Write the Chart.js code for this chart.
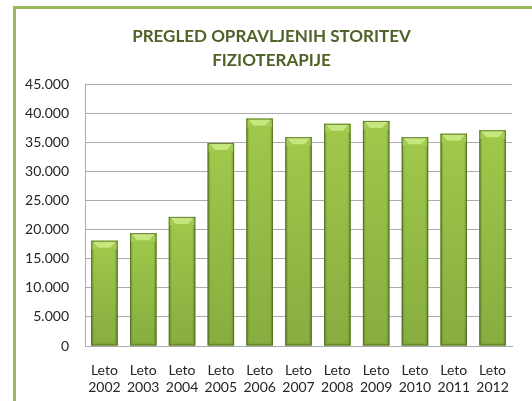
<!DOCTYPE html>
<html>
<head>
<meta charset="utf-8">
<script src="https://cdn.jsdelivr.net/npm/chart.js@4"></script>
<style>
    html, body { margin: 0; padding: 0; background: #fff; }
    .wrap { position: relative; width: 532px; height: 401px; overflow: hidden; }
    .frame { position: absolute; left: 13px; top: 6px; width: 600px; height: 500px;
             border-left: 3px solid #9BBB59; border-top: 3px solid #9BBB59; }
    canvas { position: absolute; left: 0; top: 0; }
</style>
</head>
<body>
<div class="wrap">
    <div class="frame"></div>
    <canvas id="storitveChart" width="532" height="401"></canvas>
</div>
<script>
const years = ['2002', '2003', '2004', '2005', '2006', '2007', '2008', '2009', '2010', '2011', '2012'];
const services = [18100, 19400, 22200, 34900, 39100, 35900, 38200, 38700, 35900, 36500, 37100];
const yTicks = [0, 5000, 10000, 15000, 20000, 25000, 30000, 35000, 40000, 45000];
const titleLines = ['PREGLED OPRAVLJENIH STORITEV', 'FIZIOTERAPIJE'];

const ctx = document.getElementById('storitveChart').getContext('2d');

// paints the green gradient + bevel over every bar
const barShade = {
    id: 'barShade',
    afterDatasetsDraw(chart) {
        const c = chart.ctx;
        chart.getDatasetMeta(0).data.forEach(bar => {
            const { x, y, base, width } = bar.getProps(['x', 'y', 'base', 'width'], true);
            const x0 = x - width / 2, x1 = x + width / 2;
            c.save();
            // body: lighter at top, darker at bottom
            const gv = c.createLinearGradient(0, y, 0, base);
            gv.addColorStop(0, '#A6CF4E');
            gv.addColorStop(1, '#8BB242');
            c.fillStyle = gv;
            c.fillRect(x0, y, width, base - y);
            // darker side edges
            const gh = c.createLinearGradient(x0, 0, x1, 0);
            gh.addColorStop(0, 'rgba(60,80,20,0.45)');
            gh.addColorStop(0.12, 'rgba(60,80,20,0.05)');
            gh.addColorStop(0.88, 'rgba(60,80,20,0.05)');
            gh.addColorStop(1, 'rgba(60,80,20,0.45)');
            c.fillStyle = gh;
            c.fillRect(x0, y, width, base - y);
            // top bevel
            const b = 7;
            c.fillStyle = '#C6E77E';
            c.beginPath();
            c.moveTo(x0 + 1, y);
            c.lineTo(x1 - 1, y);
            c.lineTo(x1 - b, y + b);
            c.lineTo(x0 + b, y + b);
            c.closePath();
            c.fill();
            c.fillStyle = '#A3CB55';
            c.beginPath();
            c.moveTo(x0, y);
            c.lineTo(x0 + b, y + b);
            c.lineTo(x0, y + b + 2);
            c.closePath();
            c.fill();
            c.beginPath();
            c.moveTo(x1, y);
            c.lineTo(x1 - b, y + b);
            c.lineTo(x1, y + b + 2);
            c.closePath();
            c.fill();
            // bottom bevel, subtle
            c.fillStyle = 'rgba(70,95,25,0.12)';
            c.fillRect(x0 + 3, base - 3, width - 6, 3);
            c.strokeStyle = 'rgba(80,105,35,0.8)';
            c.lineWidth = 1;
            c.strokeRect(x0 + 0.5, y + 0.5, width - 1, base - y - 1);
            c.restore();
        });
    }
};

new Chart(ctx, {
    type: 'bar',
    data: {
        labels: years.map(y => ['Leto', y]),
        datasets: [{
            label: 'Storitve',
            data: services,
            backgroundColor: '#9BBB59',
            barPercentage: 1,
            categoryPercentage: 0.68
        }]
    },
    options: {
        responsive: false,
        animation: false,
        layout: { padding: { left: 16, right: 5, top: 0, bottom: 0 } },
        plugins: {
            legend: { display: false },
            tooltip: { enabled: false },
            title: {
                display: true,
                text: titleLines,
                color: '#4F6228',
                font: { family: 'Lato', size: 17, weight: 'bold', lineHeight: 1.45 },
                padding: { top: 24, bottom: 11 }
            }
        },
        scales: {
            y: {
                min: 0,
                max: 45000,
                afterFit: scale => { scale.width = 69; },
                afterBuildTicks: scale => { scale.ticks = yTicks.map(v => ({ value: v })); },
                grid: { color: '#ABABAB', drawTicks: false },
                border: { color: '#ABABAB' },
                ticks: {
                    color: '#262626',
                    padding: 16,
                    font: { family: 'Lato', size: 14 },
                    callback: v => v.toLocaleString('de-DE')
                }
            },
            // empty right axis, only reserves space so the title centres like the original
            yRight: {
                position: 'right',
                display: true,
                min: 0,
                max: 45000,
                afterFit: scale => { scale.width = 15; },
                grid: { display: false },
                border: { display: false },
                ticks: { display: false }
            },
            x: {
                afterFit: scale => { scale.height = 55; },
                grid: { display: false },
                border: { color: '#ABABAB' },
                ticks: {
                    color: '#262626',
                    padding: 8,
                    maxRotation: 0,
                    font: { family: 'Lato', size: 14, lineHeight: 1.2 }
                }
            }
        }
    },
    plugins: [barShade]
});
</script>
</body>
</html>
